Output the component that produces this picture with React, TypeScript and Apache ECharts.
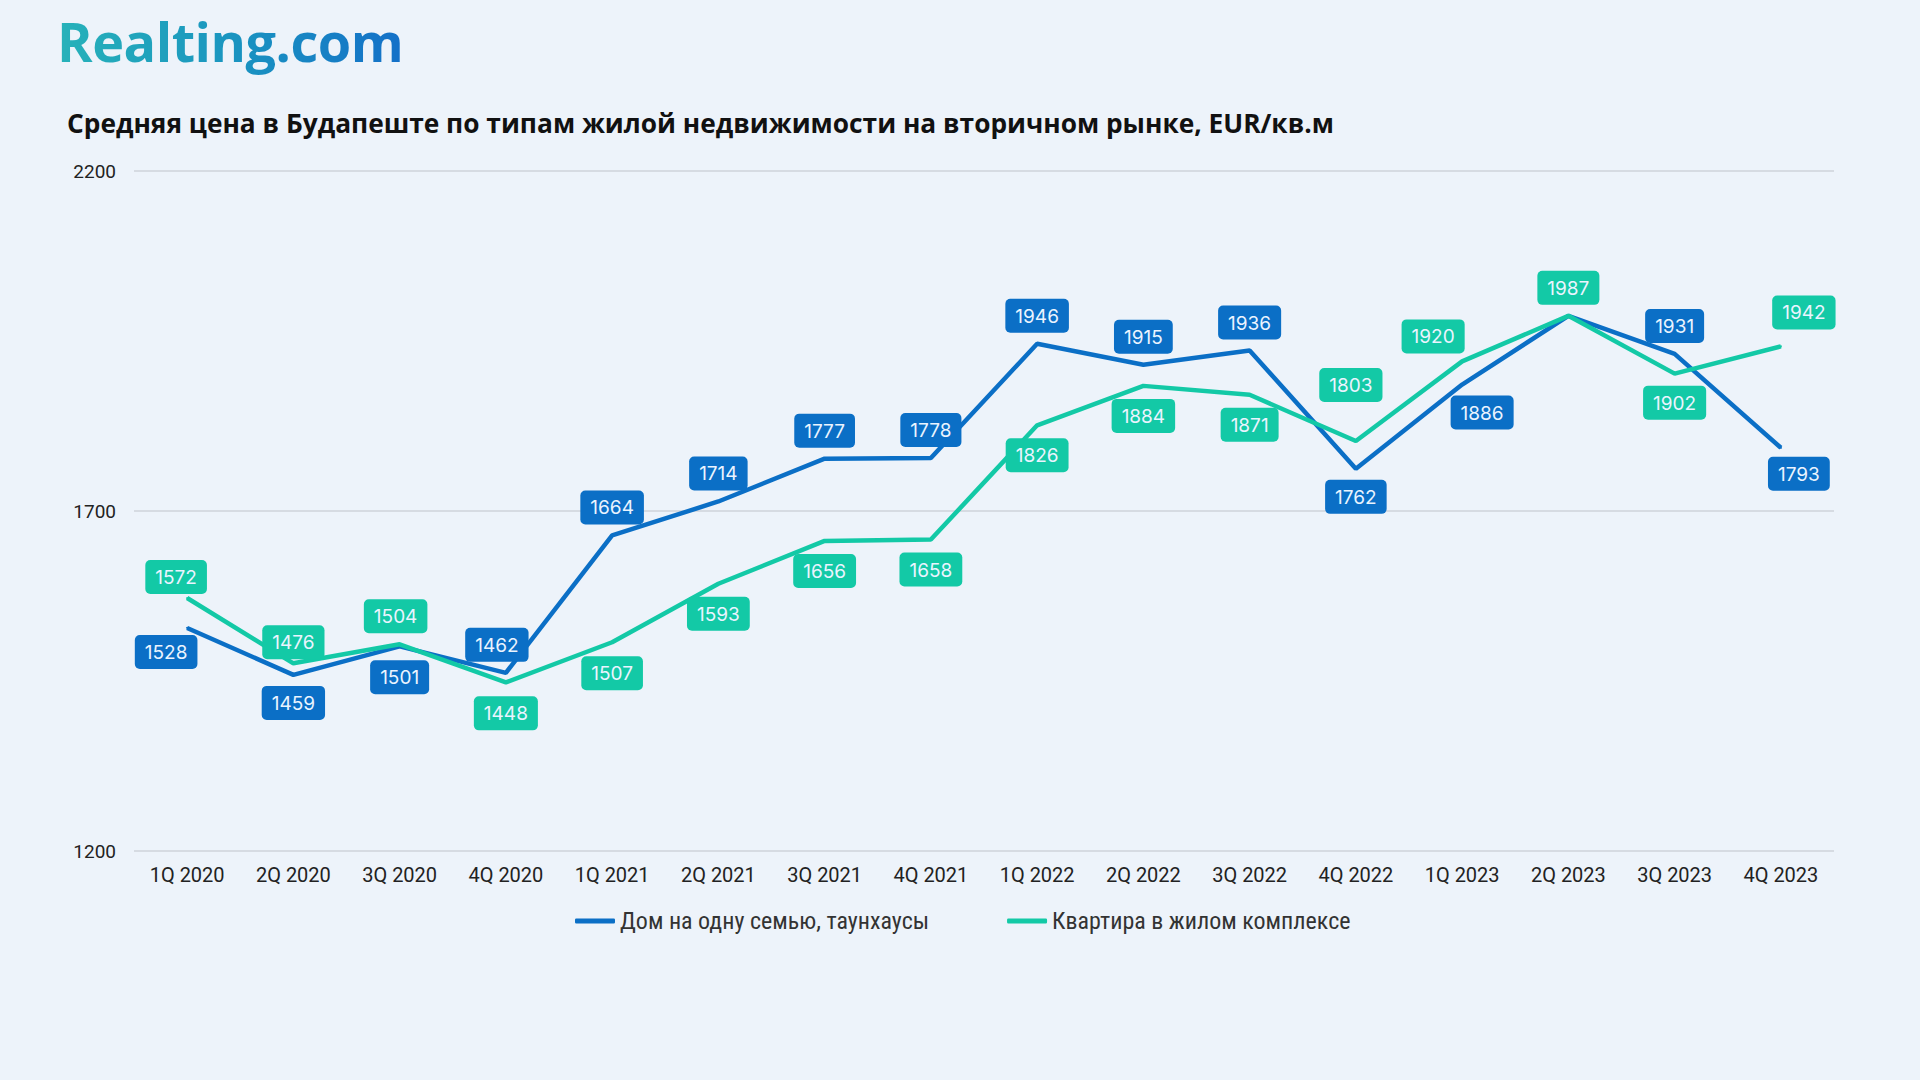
import React, { useEffect, useRef } from "react";
import * as echarts from "echarts";

const categories = [
  "1Q 2020", "2Q 2020", "3Q 2020", "4Q 2020",
  "1Q 2021", "2Q 2021", "3Q 2021", "4Q 2021",
  "1Q 2022", "2Q 2022", "3Q 2022", "4Q 2022",
  "1Q 2023", "2Q 2023", "3Q 2023", "4Q 2023",
];

const houseValues = [1528, 1459, 1501, 1462, 1664, 1714, 1777, 1778, 1946, 1915, 1936, 1762, 1886, 1987, 1931, 1793];
const flatValues = [1572, 1476, 1504, 1448, 1507, 1593, 1656, 1658, 1826, 1884, 1871, 1803, 1920, 1987, 1902, 1942];

const yTicks = [1200, 1700, 2200];

const seriesNames = ["Дом на одну семью, таунхаусы", "Квартира в жилом комплексе"];

// label placement (not data): position + pixel offset, null = hidden
const housePlacement: any[] = [
  ["bottom", -21, -4], ["bottom", 0, 0], ["bottom", 0, 3], ["top", -9, 0],
  ["top", 0, 0], ["top", 0, 0], ["top", 0, 0], ["top", 0, 0],
  ["top", 0, 0], ["top", 0, 0], ["top", 0, 0], ["bottom", 0, 0],
  ["bottom", 20, 0], null, ["top", 0, 0], ["bottom", 18, -2],
];
const flatPlacement: any[] = [
  ["top", -11, 7], ["top", 0, 7], ["top", -4, 0], ["bottom", 0, 3],
  ["bottom", 0, 3], ["bottom", 0, 2], ["bottom", 0, 2], ["bottom", 0, 2],
  ["bottom", 0, 2], ["bottom", 0, 2], ["bottom", 0, 2], ["top", -5, -28],
  ["top", -29, 3], ["top", 0, 0], ["bottom", 0, 1], ["top", 23, -6],
];

const BLUE = "#0b6fc6";
const TEAL = "#13c9a6";
const BG = "#edf3fa";

function buildData(values: number[], placement: any[]) {
  return values.map((v, i) => {
    const p = placement[i];
    if (!p) return { value: v, label: { show: false } };
    return { value: v, label: { show: true, position: p[0], offset: [p[1], p[2]] } };
  });
}

export default function App() {
  const ref = useRef<HTMLDivElement>(null);
  useEffect(() => {
    if (!ref.current) return;
    const chart = echarts.init(ref.current, null, { renderer: "svg" });
    const labelBase = (color: string) => ({
      show: true,
      color: "#eaf4ff",
      backgroundColor: color,
      borderRadius: 5,
      padding: [8, 10, 7, 10],
      fontSize: 19,
      fontFamily: "Inter, Roboto, sans-serif",
      distance: 10,
    });
    chart.setOption({
      animation: false,
      backgroundColor: BG,
      graphic: [
        {
          type: "text",
          left: 67,
          top: 110,
          style: {
            text: "Средняя цена в Будапеште по типам жилой недвижимости на вторичном рынке, EUR/кв.м",
            font: "bold 26.3px 'Open Sans', sans-serif",
            fill: "#111111",
          },
        },
      ],
      grid: { left: 134, right: 86, top: 171, bottom: 229, containLabel: false },
      legend: {
        left: 570,
        top: 904,
        itemWidth: 40,
        itemHeight: 5,
        itemGap: 78,
        icon: "roundRect",
        textStyle: { fontSize: 24, color: "#333", fontFamily: "'Liberation Sans Narrow', 'Roboto Condensed', Roboto, sans-serif" },
        data: seriesNames,
      },
      xAxis: {
        type: "category",
        data: categories,
        boundaryGap: true,
        axisLine: { show: false },
        axisTick: { show: false },
        axisLabel: { fontSize: 20, color: "#222", margin: 14, fontFamily: "Roboto, sans-serif", interval: 0 },
      },
      yAxis: {
        type: "value",
        min: yTicks[0],
        max: yTicks[yTicks.length - 1],
        interval: 500,
        axisLine: { show: false },
        axisTick: { show: false },
        axisLabel: {
          fontSize: 19,
          color: "#222",
          margin: 18,
          fontFamily: "Roboto, sans-serif",
          formatter: (v: number) => String(v),
        },
        splitLine: { lineStyle: { color: "#d6dbe2", width: 2 } },
      },
      series: [
        {
          name: seriesNames[0],
          type: "line",
          data: buildData(houseValues, housePlacement),
          symbol: "circle",
          symbolSize: 2,
          showSymbol: true,
          lineStyle: { color: BLUE, width: 4.5 },
          itemStyle: { color: BLUE },
          label: labelBase(BLUE),
          z: 2,
        },
        {
          name: seriesNames[1],
          type: "line",
          data: buildData(flatValues, flatPlacement),
          symbol: "circle",
          symbolSize: 2,
          showSymbol: true,
          lineStyle: { color: TEAL, width: 4.5 },
          itemStyle: { color: TEAL },
          label: labelBase(TEAL),
          z: 3,
        },
      ],
    });
    return () => chart.dispose();
  }, []);
  return (
    <div style={{ position: "absolute", left: 0, top: 0, width: 1920, height: 1080, background: BG }}>
      <div ref={ref} style={{ position: "absolute", left: 0, top: 0, width: 1920, height: 1080 }} />
      <div
        style={{
          position: "absolute",
          left: 57,
          top: 14,
          paddingBottom: 16,
          fontFamily: "'Open Sans', sans-serif",
          fontWeight: 700,
          fontSize: 54,
          lineHeight: 1,
          letterSpacing: -0.5,
          background: "linear-gradient(90deg, #27b2b9 0%, #1a95c0 50%, #1470c8 100%)",
          WebkitBackgroundClip: "text",
          backgroundClip: "text",
          color: "transparent",
          WebkitTextFillColor: "transparent",
          whiteSpace: "nowrap",
        }}
      >
        Realting.com
      </div>
    </div>
  );
}
